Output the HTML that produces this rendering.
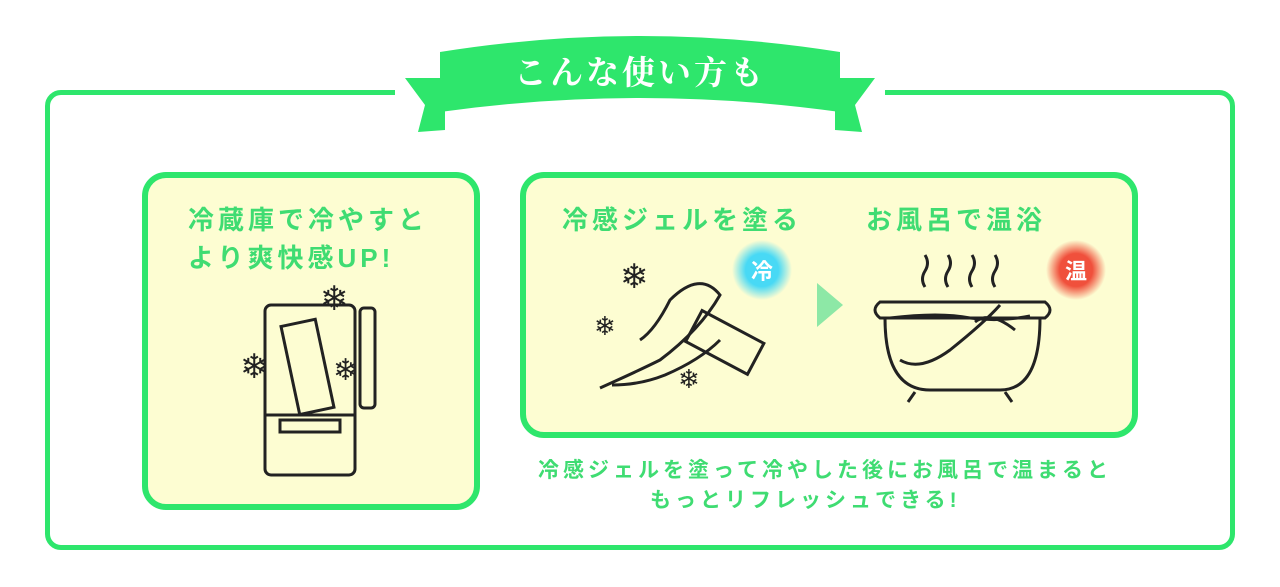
<!DOCTYPE html>
<html><head><meta charset="utf-8"><style>
body{margin:0;width:1280px;height:587px;background:#fff;overflow:hidden;position:relative;font-family:"Liberation Sans","Noto Sans CJK JP",sans-serif}
.frame{position:absolute;left:45px;top:90px;width:1180px;height:450px;border:5px solid #2ee66c;border-radius:16px;background:#fff}
.card{position:absolute;background:#fdfdd2;border:6px solid #2ee66c;border-radius:24px}
.t{position:absolute;color:#3fdc72;font-weight:bold;font-size:26px;letter-spacing:4px;white-space:nowrap}
svg{position:absolute;left:0;top:0}
</style></head><body>
<div class="frame"></div>
<svg width="1280" height="587">
<rect x="395" y="86" width="490" height="14" fill="#fff"/>
<path d="M405,78 L445,78 L445,130 L418,132 L425,105 Z" fill="#2ee66c"/>
<path d="M875,78 L835,78 L835,130 L862,132 L855,105 Z" fill="#2ee66c"/>
<path d="M440,52 Q640,20 840,52 L840,112 Q640,84 440,112 Z" fill="#2ee66c"/>
<text x="640" y="84" text-anchor="middle" fill="#fff" font-size="33" letter-spacing="3" font-family="Noto Serif CJK SC,serif" font-weight="bold">こんな使い方も</text>
</svg>
<div class="card" style="left:142px;top:172px;width:326px;height:326px"></div>
<div class="card" style="left:520px;top:172px;width:606px;height:254px"></div>
<div class="t" style="left:188px;top:200px">冷蔵庫で冷やすと</div>
<div class="t" style="left:188px;top:238px">より爽快感UP!</div>
<div class="t" style="left:562px;top:200px">冷感ジェルを塗る</div>
<div class="t" style="left:866px;top:200px">お風呂で温浴</div>
<div class="t" style="left:538px;top:454px;font-size:21px;letter-spacing:4px">冷感ジェルを塗って冷やした後にお風呂で温まると</div>
<div class="t" style="left:650px;top:484px;font-size:21px;letter-spacing:4px">もっとリフレッシュできる!</div>
<svg width="1280" height="587" fill="none" stroke="#222" stroke-width="3">
<defs><radialGradient id="b"><stop offset="55%" stop-color="#48d9f5"/><stop offset="100%" stop-color="#48d9f5" stop-opacity="0"/></radialGradient>
<radialGradient id="r"><stop offset="55%" stop-color="#f0503c"/><stop offset="100%" stop-color="#f0503c" stop-opacity="0"/></radialGradient></defs>
<rect x="265" y="305" width="90" height="170" rx="6"/><line x1="265" y1="415" x2="355" y2="415"/>
<rect x="280" y="420" width="60" height="12"/><rect x="360" y="308" width="15" height="100" rx="4"/>
<rect x="290" y="322" width="35" height="90" transform="rotate(-12 307 367)"/>
<text x="320" y="310" font-size="34" fill="#222" stroke="none">❄</text>
<text x="240" y="378" font-size="34" fill="#222" stroke="none">❄</text>
<text x="333" y="380" font-size="30" fill="#222" stroke="none">❄</text>
<text x="620" y="288" font-size="34" fill="#222" stroke="none">❄</text>
<text x="594" y="335" font-size="26" fill="#222" stroke="none">❄</text>
<text x="678" y="388" font-size="26" fill="#222" stroke="none">❄</text>
<path d="M600,388 Q640,370 660,360 Q700,330 720,295 Q700,270 670,300 Q655,330 640,340"/>
<path d="M612,385 Q640,385 665,375 Q700,360 720,340"/>
<rect x="690" y="325" width="70" height="35" transform="rotate(28 725 342)"/>
<circle cx="762" cy="270" r="30" fill="url(#b)" stroke="none"/>
<text x="762" y="279" font-size="22" font-weight="bold" fill="#fff" stroke="none" text-anchor="middle">冷</text>
<path d="M817,283 L843,305 L817,327 Z" fill="#8de8a6" stroke="none"/>
<path d="M880,302 L1045,302 Q1055,310 1045,318 L880,318 Q870,310 880,302Z"/>
<path d="M885,318 Q885,390 930,390 L1000,390 Q1040,390 1040,318"/>
<path d="M890,318 Q940,312 970,318 Q1000,322 1030,316"/>
<path d="M900,360 Q920,372 950,350 Q985,322 1000,305 M975,322 Q990,310 1015,330"/>
<path d="M915,392 L908,402 M1005,392 L1012,402"/>
<path d="M925,255 q5,8 0,16 q-5,8 0,16 M948,255 q5,8 0,16 q-5,8 0,16 M972,255 q5,8 0,16 q-5,8 0,16 M995,255 q5,8 0,16 q-5,8 0,16"/>
<circle cx="1076" cy="270" r="30" fill="url(#r)" stroke="none"/>
<text x="1076" y="279" font-size="22" font-weight="bold" fill="#fff" stroke="none" text-anchor="middle">温</text>
</svg>
</body></html>
